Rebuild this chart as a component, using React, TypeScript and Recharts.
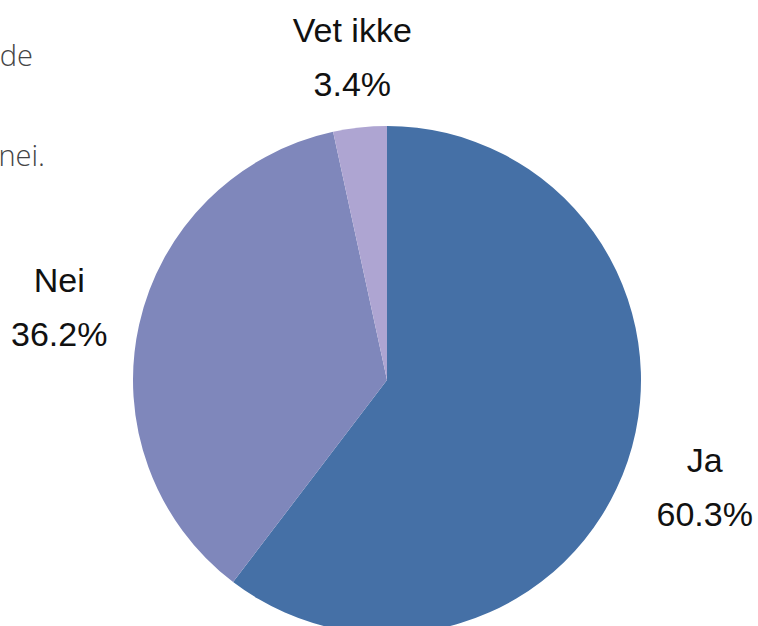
import React from "react";
import { PieChart, Pie, Cell } from "recharts";

const categories = ["Ja", "Nei", "Vet ikke"];
const values = [60.3, 36.2, 3.4];
const colors = ["#4570a6", "#7f87bb", "#aea5d2"];
const backgroundFragments = ["de", "nei."];

const data = categories.map((name, i) => ({ name, value: values[i] }));

const RAD = Math.PI / 180;

const renderLabel = (props: any) => {
  const { cx, cy, midAngle, outerRadius, name, value } = props;
  const c = Math.abs(Math.cos(-midAngle * RAD));
  const r = outerRadius + 70 + 12 * c;
  const x = cx + r * Math.cos(-midAngle * RAD);
  const y = cy + r * Math.sin(-midAngle * RAD);
  return (
    <g>
      <text
        x={x}
        y={y - 27}
        textAnchor="middle"
        dominantBaseline="central"
        fill="#111"
        fontSize={34}
        fontFamily="'Liberation Sans', Arial, sans-serif"
      >
        {name}
      </text>
      <text
        x={x}
        y={y + 27}
        textAnchor="middle"
        dominantBaseline="central"
        fill="#111"
        fontSize={34}
        fontFamily="'Liberation Sans', Arial, sans-serif"
      >
        {value.toFixed(1)}%
      </text>
    </g>
  );
};

export default function App() {
  return (
    <div
      style={{
        position: "fixed",
        left: 0,
        top: 0,
        width: 758,
        height: 626,
        background: "#fff",
        overflow: "hidden",
      }}
    >
      <svg
        width={758}
        height={626}
        style={{ position: "absolute", left: 0, top: 0 }}
      >
        <text
          x={33}
          y={66}
          textAnchor="end"
          fill="#444"
          fontSize={29}
          fontWeight={300}
          fontFamily="'Open Sans', sans-serif"
        >
          {backgroundFragments[0]}
        </text>
        <text
          x={45}
          y={166}
          textAnchor="end"
          fill="#444"
          fontSize={29}
          fontWeight={300}
          fontFamily="'Open Sans', sans-serif"
        >
          {backgroundFragments[1]}
        </text>
      </svg>
      <div style={{ position: "absolute", left: 0, top: 0 }}>
        <PieChart width={758} height={626} margin={{ top: 0, right: 0, bottom: 0, left: 0 }}>
          <Pie
            data={data}
            dataKey="value"
            nameKey="name"
            cx={387}
            cy={380}
            outerRadius={254}
            startAngle={90}
            endAngle={-270}
            stroke="none"
            label={renderLabel}
            labelLine={false}
            isAnimationActive={false}
          >
            {data.map((d, i) => (
              <Cell key={d.name} fill={colors[i]} />
            ))}
          </Pie>
        </PieChart>
      </div>
    </div>
  );
}
